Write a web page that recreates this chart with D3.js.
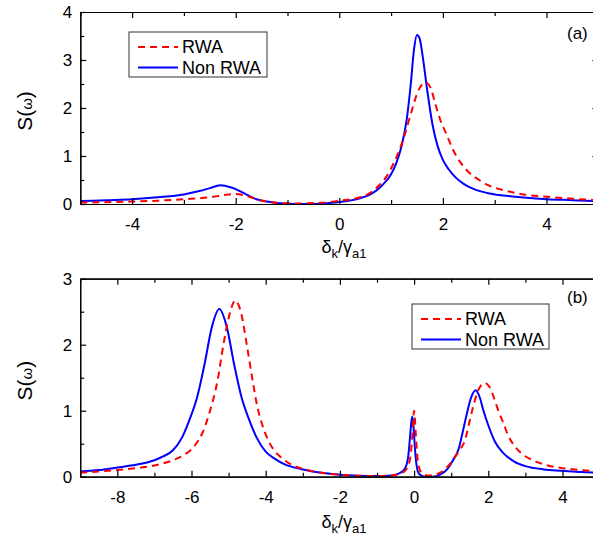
<!DOCTYPE html>
<html>
<head>
<meta charset="utf-8">
<script src="https://cdn.jsdelivr.net/npm/d3@7"></script>
<style>
  html, body { margin: 0; padding: 0; background: #fff; }
  svg { display: block; font-family: Arial, "Liberation Sans", sans-serif; }
</style>
</head>
<body>
<svg id="chart" width="593" height="548"></svg>
<script>
// ---------- DATA ----------
const seriesNames = ["RWA", "Non RWA"];
const seriesColors = ["#ff0000", "#0000ff"];

// Panel (a)
const aRwaX = [-5, -4, -3.5, -3, -2.5, -2.2, -2.0, -1.8, -1.6, -1.4, -1.1, -0.8, -0.5, -0.2, 0, 0.33, 0.58, 0.75, 0.91, 1.05, 1.17, 1.27, 1.4, 1.52, 1.67, 1.77, 1.85, 1.95, 2.07, 2.2, 2.35, 2.5, 2.7, 2.9, 3.2, 3.55, 4, 4.5, 5];
const aRwaY = [0.03, 0.05, 0.07, 0.1, 0.14, 0.19, 0.21, 0.17, 0.1, 0.05, 0.02, 0.01, 0.02, 0.04, 0.07, 0.12, 0.22, 0.37, 0.57, 0.85, 1.15, 1.47, 1.95, 2.35, 2.53, 2.4, 2.1, 1.75, 1.45, 1.12, 0.85, 0.66, 0.5, 0.38, 0.28, 0.2, 0.15, 0.11, 0.08];
const aNonX = [-5, -4.5, -4, -3.5, -3, -2.7, -2.5, -2.3, -2.1, -2.0, -1.8, -1.6, -1.4, -1.2, -1.0, -0.7, -0.4, -0.2, 0, 0.2, 0.4, 0.6, 0.8, 1.0, 1.1, 1.2, 1.3, 1.38, 1.44, 1.5, 1.55, 1.6, 1.7, 1.8, 1.9, 2.0, 2.1, 2.25, 2.4, 2.6, 2.9, 3.3, 4, 4.5, 5];
const aNonY = [0.06, 0.08, 0.10, 0.14, 0.20, 0.27, 0.33, 0.39, 0.35, 0.31, 0.2, 0.1, 0.05, 0.02, 0.01, 0.0, 0.005, 0.02, 0.04, 0.07, 0.12, 0.2, 0.36, 0.62, 0.85, 1.2, 1.75, 2.5, 3.2, 3.52, 3.45, 3.15, 2.35, 1.65, 1.2, 0.92, 0.74, 0.55, 0.42, 0.31, 0.22, 0.16, 0.1, 0.08, 0.06];
const aXTicks = [-4, -2, 0, 2, 4];
const aXMinor = [-5, -3, -1, 1, 3, 5];
const aYTicks = [0, 1, 2, 3, 4];
const aYMinor = [0.5, 1.5, 2.5, 3.5];

// Panel (b)
const bRwaX = [-9, -8.5, -8, -7.5, -7, -6.5, -6.2, -5.9, -5.7, -5.5, -5.3, -5.14, -5.0, -4.82, -4.65, -4.51, -4.35, -4.24, -4.1, -3.97, -3.8, -3.6, -3.3, -3, -2.5, -2, -1.5, -1, -0.6, -0.35, -0.2, -0.1, -0.05, 0.0, 0.04, 0.08, 0.13, 0.2, 0.35, 0.5, 0.7, 0.9, 1.1, 1.25, 1.37, 1.5, 1.6, 1.7, 1.8, 1.91, 2.02, 2.15, 2.27, 2.4, 2.54, 2.7, 2.9, 3.2, 3.6, 4, 4.5, 5];
const bRwaY = [0.06, 0.08, 0.1, 0.13, 0.17, 0.25, 0.33, 0.48, 0.67, 1.0, 1.45, 2.0, 2.4, 2.67, 2.45, 2.0, 1.45, 1.1, 0.8, 0.6, 0.42, 0.3, 0.18, 0.12, 0.06, 0.03, 0.015, 0.01, 0.02, 0.05, 0.12, 0.3, 0.6, 1.0, 0.7, 0.35, 0.15, 0.06, 0.02, 0.02, 0.06, 0.15, 0.3, 0.42, 0.55, 0.85, 1.08, 1.27, 1.38, 1.42, 1.37, 1.2, 1.0, 0.82, 0.62, 0.47, 0.35, 0.25, 0.17, 0.13, 0.1, 0.08];
const bNonX = [-9, -8.5, -8, -7.5, -7, -6.75, -6.5, -6.25, -6.05, -5.85, -5.65, -5.45, -5.25, -5.05, -4.85, -4.65, -4.45, -4.25, -4.0, -3.75, -3.5, -3, -2.5, -2, -1.5, -1, -0.6, -0.4, -0.25, -0.16, -0.11, -0.07, -0.05, -0.02, 0.02, 0.06, 0.1, 0.16, 0.3, 0.5, 0.7, 0.9, 1.05, 1.2, 1.3, 1.42, 1.55, 1.66, 1.77, 1.87, 2.0, 2.18, 2.4, 2.7, 3.0, 3.5, 4, 4.5, 5];
const bNonY = [0.08, 0.1, 0.14, 0.18, 0.25, 0.31, 0.4, 0.6, 0.87, 1.2, 1.7, 2.27, 2.54, 2.27, 1.7, 1.2, 0.87, 0.6, 0.38, 0.27, 0.19, 0.11, 0.06, 0.03, 0.015, 0.01, 0.02, 0.05, 0.12, 0.3, 0.6, 0.85, 0.91, 0.8, 0.45, 0.2, 0.08, 0.03, 0.0, 0.0, 0.03, 0.12, 0.25, 0.42, 0.65, 0.95, 1.22, 1.31, 1.2, 1.0, 0.78, 0.53, 0.36, 0.23, 0.16, 0.11, 0.09, 0.07, 0.06];
const bXTicks = [-8, -6, -4, -2, 0, 2, 4];
const bXMinor = [-9, -7, -5, -3, -1, 1, 3, 5];
const bYTicks = [0, 1, 2, 3];
const bYMinor = [0.5, 1.5, 2.5];

// ---------- DRAW ----------
const svg = d3.select("#chart");
const zip = (xs, ys) => xs.map((x, i) => [x, ys[i]]);

const panels = [
  {
    id: "a", xDomain: [-5, 5], yDomain: [0, 4],
    left: 80.3, right: 598.3, top: 12, bottom: 204,
    series: [zip(aRwaX, aRwaY), zip(aNonX, aNonY)],
    xTicks: aXTicks, xMinor: aXMinor, yTicks: aYTicks, yMinor: aYMinor,
    label: "(a)", labelPos: [567, 39],
    legend: { x: 129, y: 32, w: 138, h: 45 }
  },
  {
    id: "b", xDomain: [-9, 5], yDomain: [0, 3],
    left: 80.2, right: 599.6, top: 278.7, bottom: 476.7,
    series: [zip(bRwaX, bRwaY), zip(bNonX, bNonY)],
    xTicks: bXTicks, xMinor: bXMinor, yTicks: bYTicks, yMinor: bYMinor,
    label: "(b)", labelPos: [567, 303],
    legend: { x: 412, y: 304, w: 137, h: 45 }
  }
];

const fmt = d => String(d);

panels.forEach(p => {
  const x = d3.scaleLinear().domain(p.xDomain).range([p.left, p.right]);
  const y = d3.scaleLinear().domain(p.yDomain).range([p.bottom, p.top]);
  const g = svg.append("g");

  g.append("clipPath").attr("id", "clip-" + p.id)
    .append("rect").attr("x", p.left).attr("y", p.top)
    .attr("width", p.right - p.left).attr("height", p.bottom - p.top);

  const line = d3.line().x(d => x(d[0])).y(d => y(d[1])).curve(d3.curveMonotoneX);

  const order = [1, 0];
  order.forEach(i => {
    g.append("path")
      .attr("clip-path", `url(#clip-${p.id})`)
      .attr("d", line(p.series[i]))
      .attr("fill", "none")
      .attr("stroke", seriesColors[i])
      .attr("stroke-width", 2)
      .attr("stroke-linejoin", "round")
      .attr("stroke-dasharray", i === 0 ? "7,5" : null);
  });

  const styleAxis = sel => {
    sel.select(".domain").attr("stroke", "#000").attr("stroke-width", 1.2);
    sel.selectAll(".tick line").attr("stroke", "#000").attr("stroke-width", 1.2);
    sel.selectAll("text").attr("font-family", 'Arial, "Liberation Sans", sans-serif')
      .attr("font-size", 17).attr("fill", "#000");
  };

  g.append("g").attr("transform", `translate(0,${p.bottom})`)
    .call(d3.axisBottom(x).tickValues(p.xTicks).tickFormat(fmt).tickSize(-6).tickSizeOuter(0).tickPadding(14))
    .call(styleAxis);
  g.append("g").attr("transform", `translate(0,${p.bottom})`)
    .call(d3.axisBottom(x).tickValues(p.xMinor).tickFormat("").tickSize(-4).tickSizeOuter(0))
    .call(styleAxis);
  g.append("g").attr("transform", `translate(0,${p.top})`)
    .call(d3.axisTop(x).tickValues(p.xTicks).tickFormat("").tickSize(-6).tickSizeOuter(0))
    .call(styleAxis);
  g.append("g").attr("transform", `translate(0,${p.top})`)
    .call(d3.axisTop(x).tickValues(p.xMinor).tickFormat("").tickSize(-4).tickSizeOuter(0))
    .call(styleAxis);
  g.append("g").attr("transform", `translate(${p.left},0)`)
    .call(d3.axisLeft(y).tickValues(p.yTicks).tickFormat(fmt).tickSize(-6).tickSizeOuter(0).tickPadding(8))
    .call(styleAxis);
  g.append("g").attr("transform", `translate(${p.left},0)`)
    .call(d3.axisLeft(y).tickValues(p.yMinor).tickFormat("").tickSize(-4).tickSizeOuter(0))
    .call(styleAxis);
  g.append("g").attr("transform", `translate(${p.right},0)`)
    .call(d3.axisRight(y).tickValues(p.yTicks).tickFormat("").tickSize(-6).tickSizeOuter(0))
    .call(styleAxis);
  g.append("g").attr("transform", `translate(${p.right},0)`)
    .call(d3.axisRight(y).tickValues(p.yMinor).tickFormat("").tickSize(-4).tickSizeOuter(0))
    .call(styleAxis);

  const cy = (p.top + p.bottom) / 2 + 3;
  const yl = g.append("text")
    .attr("transform", `translate(32,${cy}) rotate(-90)`)
    .attr("text-anchor", "middle")
    .attr("font-size", 21).attr("fill", "#000");
  yl.append("tspan").text("S(");
  yl.append("tspan").attr("font-size", 15).text("ω");
  yl.append("tspan").text(")");

  const xl = g.append("text")
    .attr("x", 344).attr("y", p.id === "a" ? 253 : 528)
    .attr("text-anchor", "middle")
    .attr("font-size", 18).attr("fill", "#000");
  xl.append("tspan").text("δ");
  xl.append("tspan").attr("font-size", 13).attr("dy", 5).text("k");
  xl.append("tspan").attr("dy", -5).text("/γ");
  xl.append("tspan").attr("font-size", 13).attr("dy", 5).text("a1");

  g.append("text").attr("x", p.labelPos[0]).attr("y", p.labelPos[1])
    .attr("font-size", 17).attr("fill", "#000").text(p.label);

  const L = p.legend;
  g.append("rect").attr("x", L.x).attr("y", L.y).attr("width", L.w).attr("height", L.h)
    .attr("fill", "#fff").attr("stroke", "#333").attr("stroke-width", 1);
  seriesNames.forEach((name, i) => {
    const ry = L.y + 15 + i * 20.5;
    g.append("line").attr("x1", L.x + 9).attr("x2", L.x + 49)
      .attr("y1", ry).attr("y2", ry)
      .attr("stroke", seriesColors[i]).attr("stroke-width", 2)
      .attr("stroke-dasharray", i === 0 ? "7,5" : null);
    g.append("text").attr("x", L.x + 53).attr("y", ry + 6)
      .attr("font-size", 18).attr("fill", "#000").text(name);
  });
});
</script>
</body>
</html>
